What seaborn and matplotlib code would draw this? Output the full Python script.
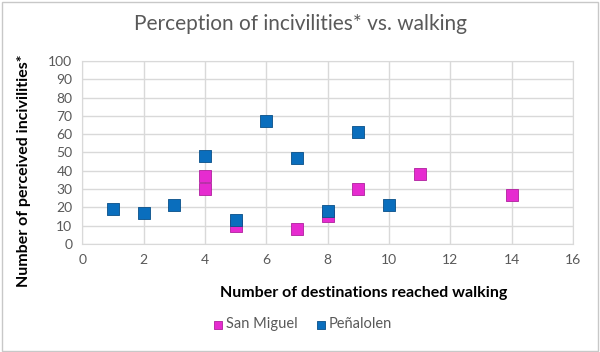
import pandas as pd
import seaborn as sns
import matplotlib.pyplot as plt

# --- data ---
sm_x = [4, 4, 5, 7, 8, 9, 11, 14]
sm_y = [37, 30, 10, 8, 15, 30, 38, 27]
pe_x = [1, 2, 3, 4, 5, 6, 7, 8, 9, 10]
pe_y = [19, 17, 21, 48, 13, 67, 47, 18, 61, 21]

df = pd.concat([
    pd.DataFrame({"dest": sm_x, "inciv": sm_y, "comuna": "San Miguel"}),
    pd.DataFrame({"dest": pe_x, "inciv": pe_y, "comuna": "Peñalolen"}),
], ignore_index=True)

sns.set_style("white")
plt.rcParams["font.family"] = ["Lato", "DejaVu Sans"]

fig = plt.figure(figsize=(6, 3.52), dpi=100)
ax = fig.add_axes([0.137, 0.307, 0.818, 0.52])

palette = {"San Miguel": "#E62BD0", "Peñalolen": "#0A6EBD"}
edges = {"San Miguel": "#B0209E", "Peñalolen": "#084F88"}
for name in ["San Miguel", "Peñalolen"]:
    sub = df[df["comuna"] == name]
    sns.scatterplot(data=sub, x="dest", y="inciv", ax=ax, marker="s", s=85,
                    color=palette[name], edgecolor=edges[name], linewidth=0.6,
                    label=name, zorder=3)

ax.set_xlim(0, 16)
ax.set_ylim(0, 100)
ax.set_xticks(range(0, 17, 2))
ax.set_yticks(range(0, 101, 10))
ax.grid(True, color="#D9D9D9", linewidth=1)
for s in ax.spines.values():
    s.set_color("#D9D9D9")
ax.tick_params(length=0, labelsize=10, labelcolor="#595959", pad=7)

ax.set_xlabel("Number of destinations reached walking", fontsize=11.5,
              fontweight="bold", color="black")
ax.xaxis.set_label_coords(0.574, -0.23)
ax.set_ylabel("Number of perceived incivilities*", fontsize=11.5,
              fontweight="bold", color="black")
ax.yaxis.set_label_coords(-0.105, 0.4)

fig.suptitle("Perception of incivilities* vs. walking", x=0.5, y=0.96,
             fontsize=15, color="#595959")

ax.legend(loc="upper center", bbox_to_anchor=(0.447, -0.33), ncol=2,
          frameon=False, fontsize=10.5, handletextpad=0.05, handlelength=1.0,
          columnspacing=1.1, markerscale=0.55, labelcolor="#595959")

# light border round the figure
fig.patches.append(plt.Rectangle((0.003, 0.004), 0.994, 0.99, transform=fig.transFigure,
                                 fill=False, edgecolor="#C8C8C8", linewidth=1))

fig.savefig("out.png", dpi=100)
